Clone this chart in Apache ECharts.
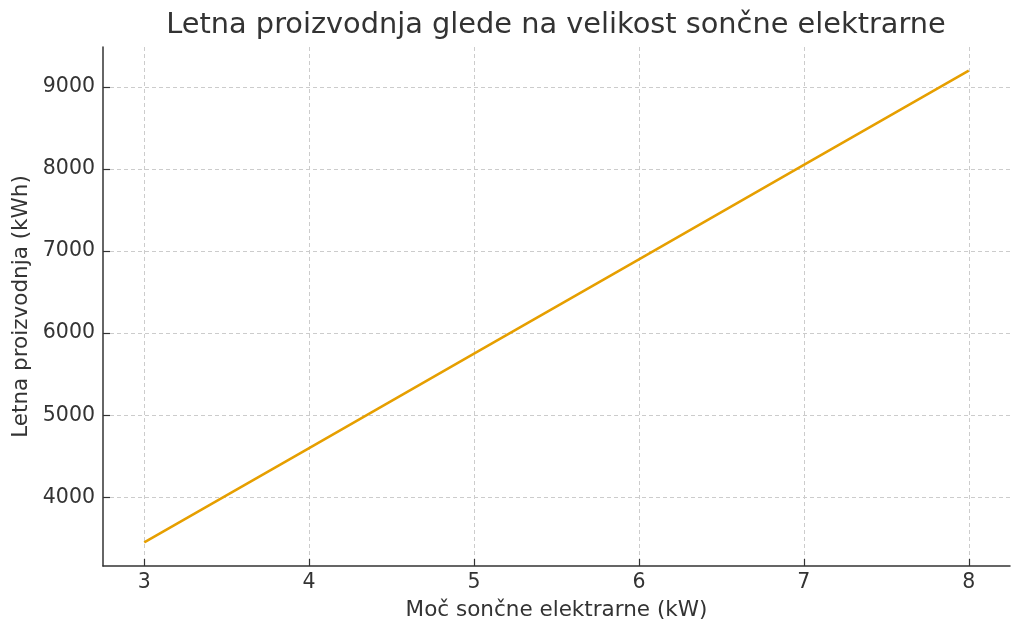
<!DOCTYPE html>
<html>
<head>
<meta charset="utf-8">
<script src="https://cdn.jsdelivr.net/npm/echarts@6/dist/echarts.min.js"></script>
<style>
  html, body { margin: 0; padding: 0; background: #fff; }
  #main { width: 1024px; height: 635px; }
</style>
</head>
<body>
<div id="main"></div>
<script>
// moč elektrarne (kW) in letna proizvodnja (kWh)
var powerKW = [3, 4, 5, 6, 7, 8];
var yearlyKWh = [3450, 4600, 5750, 6900, 8050, 9200];
var xTicks = [3, 4, 5, 6, 7, 8];
var yTicks = [4000, 5000, 6000, 7000, 8000, 9000];

var font = 'DejaVu Sans';
var ink = '#333333';

var chart = echarts.init(document.getElementById('main'), null, { renderer: 'canvas' });

var pts = powerKW.map(function (x, i) { return [x, yearlyKWh[i]]; });

var gridLine = { show: true, lineStyle: { color: '#cccccc', type: [4, 3], width: 1 } };

var option = {
  backgroundColor: '#ffffff',
  animation: false,
  title: {
    text: 'Letna proizvodnja glede na velikost sončne elektrarne',
    left: 556, textAlign: 'center', top: 11, padding: 0,
    textStyle: { fontFamily: font, fontSize: 28.8, fontWeight: 'normal', color: ink }
  },
  grid: { left: 103, right: 14, top: 47, bottom: 69, containLabel: false },
  xAxis: {
    type: 'value', min: 2.75, max: 8.25,
    name: 'Moč sončne elektrarne (kW)', nameLocation: 'middle', nameGap: 33,
    nameTextStyle: { fontFamily: font, fontSize: 21.5, color: ink },
    axisLine: { show: true, onZero: false, lineStyle: { color: ink, width: 1.5 } },
    axisTick: { show: true, inside: true, length: 7, customValues: xTicks, lineStyle: { color: ink, width: 1.2 } },
    axisLabel: { customValues: xTicks, margin: 6, fontFamily: font, fontSize: 20.5, color: ink },
    splitLine: gridLine
  },
  yAxis: {
    type: 'value', min: 3162.5, max: 9487.5,
    name: 'Letna proizvodnja (kWh)', nameLocation: 'middle', nameGap: 68,
    nameTextStyle: { fontFamily: font, fontSize: 21.5, color: ink },
    axisLine: { show: true, onZero: false, lineStyle: { color: ink, width: 1.5 } },
    axisTick: { show: true, inside: true, length: 7, customValues: yTicks, lineStyle: { color: ink, width: 1.2 } },
    axisLabel: {
      customValues: yTicks, margin: 8, fontFamily: font, fontSize: 20.5, color: ink,
      formatter: function (v) { return String(v); }
    },
    splitLine: gridLine
  },
  series: [{
    type: 'line',
    data: pts,
    showSymbol: false,
    symbol: 'none',
    lineStyle: { color: '#E69F00', width: 2.5 },
    itemStyle: { color: '#E69F00' }
  }]
};

chart.setOption(option);
</script>
</body>
</html>
